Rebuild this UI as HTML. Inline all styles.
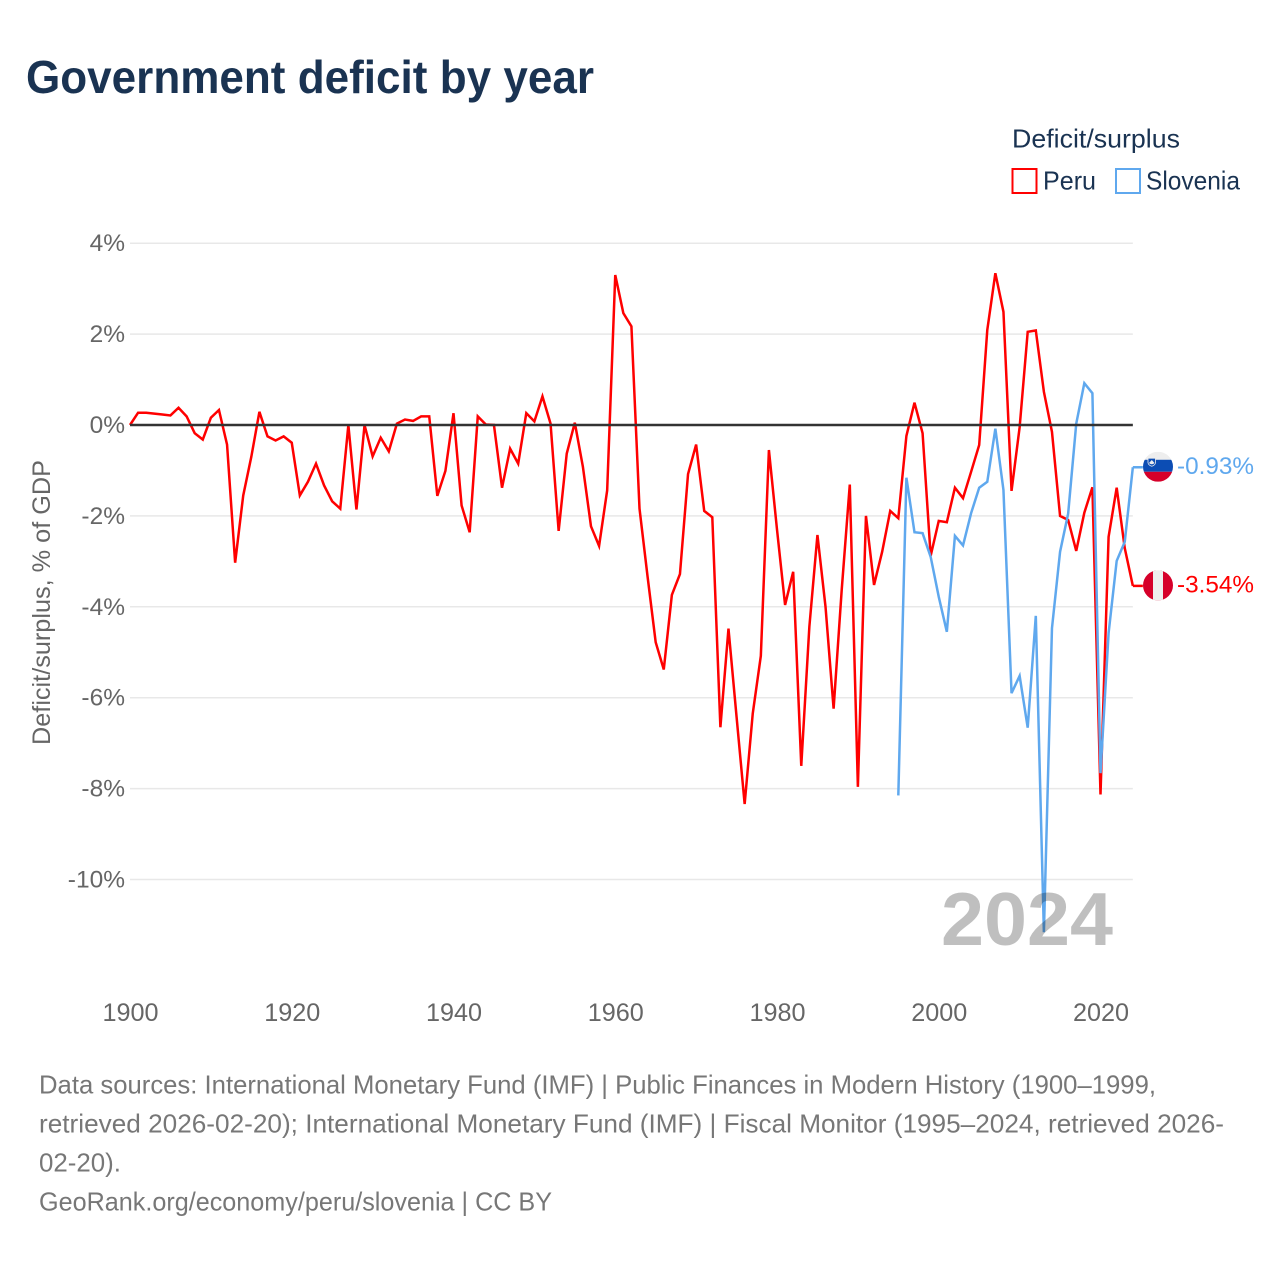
<!DOCTYPE html>
<html lang="en">
<head>
<meta charset="utf-8">
<title>Government deficit by year</title>
<style>
html,body{margin:0;padding:0;background:#fff;width:1280px;height:1280px;overflow:hidden}
svg{display:block}
text{font-family:"Liberation Sans",sans-serif}
</style>
</head>
<body>
<svg id="chart" xmlns="http://www.w3.org/2000/svg" width="1280" height="1280" viewBox="0 0 1280 1280">
  <defs>
    <clipPath id="flag-clip"><circle cx="0" cy="0" r="15"/></clipPath>
  </defs>
  <rect x="0" y="0" width="1280" height="1280" fill="#fff"/>
  <text x="26" y="93" font-size="46" font-weight="700" fill="#1a3352" textLength="568" lengthAdjust="spacingAndGlyphs">Government deficit by year</text>

  <g>
    <text x="1012" y="147.5" font-size="26" fill="#1a3352" textLength="168" lengthAdjust="spacingAndGlyphs">Deficit/surplus</text>
    <g>
      <rect x="1012.5" y="169" width="24" height="24" fill="none" stroke="#ff0000" stroke-width="2"/>
      <text x="1043" y="189.5" font-size="26" fill="#1a3352" textLength="53" lengthAdjust="spacingAndGlyphs">Peru</text>
    </g>
    <g>
      <rect x="1116" y="169" width="24" height="24" fill="none" stroke="#5fa8ee" stroke-width="2"/>
      <text x="1146" y="189.5" font-size="26" fill="#1a3352" textLength="94" lengthAdjust="spacingAndGlyphs">Slovenia</text>
    </g>
  </g>

  <g id="grid"></g>
  <g id="yticks"></g>
  <g id="xticks"></g>
  <text transform="translate(50,602.5) rotate(-90)" text-anchor="middle" font-size="25" fill="#666" textLength="285" lengthAdjust="spacingAndGlyphs">Deficit/surplus, % of GDP</text>

  <g id="series"></g>
  <line id="zero" stroke="#333" stroke-width="2.6"/>
  <g id="ends"></g>

  <text x="941" y="945" font-size="75" font-weight="700" fill="#000" fill-opacity="0.25" textLength="172" lengthAdjust="spacingAndGlyphs">2024</text>

  <g font-size="26" fill="#777">
    <text x="39" y="1093.5" textLength="1117" lengthAdjust="spacingAndGlyphs">Data sources: International Monetary Fund (IMF) | Public Finances in Modern History (1900–1999,</text>
    <text x="39" y="1132.5" textLength="1185" lengthAdjust="spacingAndGlyphs">retrieved 2026-02-20); International Monetary Fund (IMF) | Fiscal Monitor (1995–2024, retrieved 2026-</text>
    <text x="39" y="1171.5" textLength="82" lengthAdjust="spacingAndGlyphs">02-20).</text>
    <text x="39" y="1210.5" textLength="513" lengthAdjust="spacingAndGlyphs">GeoRank.org/economy/peru/slovenia | CC BY</text>
  </g>
</svg>
<script>
const peruStartYear = 1900;
const sloveniaStartYear = 1995;
const peruValues = [
  0,0.27,0.27,0.25,0.23,0.21,0.38,0.19,-0.18,-0.32,
  0.16,0.33,-0.43,-3.03,-1.55,-0.7,0.29,-0.25,-0.34,-0.25,
  -0.39,-1.55,-1.25,-0.85,-1.33,-1.68,-1.84,0,-1.86,0,
  -0.69,-0.28,-0.58,0.03,0.12,0.09,0.19,0.19,-1.56,-1.01,
  0.26,-1.77,-2.36,0.19,0.01,0,-1.38,-0.52,-0.85,0.26,
  0.08,0.63,0.03,-2.33,-0.63,0.05,-0.92,-2.23,-2.66,-1.44,
  3.3,2.46,2.17,-1.84,-3.34,-4.78,-5.38,-3.74,-3.28,-1.08,
  -0.43,-1.89,-2.03,-6.65,-4.48,-6.42,-8.34,-6.35,-5.08,-0.55,
  -2.3,-3.96,-3.23,-7.5,-4.44,-2.42,-4.0,-6.24,-3.63,-1.31,
  -7.96,-2.0,-3.52,-2.79,-1.89,-2.05,-0.24,0.49,-0.18,-2.88,
  -2.11,-2.14,-1.38,-1.61,-1.03,-0.44,2.09,3.34,2.49,-1.45,
  -0.05,2.05,2.08,0.73,-0.15,-2.0,-2.09,-2.77,-1.93,-1.37,
  -8.13,-2.46,-1.38,-2.71,-3.54
];
const sloveniaValues = [
  -8.15,-1.16,-2.36,-2.38,-2.9,-3.78,-4.55,-2.44,-2.65,-1.94,
  -1.38,-1.25,-0.08,-1.43,-5.9,-5.52,-6.66,-4.2,-11.16,-4.47,
  -2.79,-1.95,0.03,0.92,0.7,-7.66,-4.58,-2.99,-2.57,-0.93
];
const yTickValues = [4,2,0,-2,-4,-6,-8,-10];
const xTickYears = [1900,1920,1940,1960,1980,2000,2020];
const endLabels = ["-3.54%","-0.93%"];

const NS = "http://www.w3.org/2000/svg";
function xScale(year){ return 130 + (year - 1900) * 8.0875; }
function yScale(v){ return 425 - v * 45.45; }
function make(tag, attrs, parent){
  const el = document.createElementNS(NS, tag);
  for (const k in attrs) el.setAttribute(k, attrs[k]);
  parent.appendChild(el);
  return el;
}
const X0 = xScale(1900), X1 = xScale(2024);

const gridG = document.getElementById("grid");
const yG = document.getElementById("yticks");
yTickValues.forEach(function(v){
  if (v !== 0) {
    const ln = make("line", {x1:X0, x2:X1, y1:yScale(v), y2:yScale(v), stroke:"#e8e8e8", "stroke-width":1.5}, gridG);
    
    
  }
  const t = make("text", {x:125, y:yScale(v)+8, "text-anchor":"end", "font-size":24.5, fill:"#666"}, yG);
  t.textContent = v + "%";
  
  
});

const xG = document.getElementById("xticks");
xTickYears.forEach(function(y){
  const t = make("text", {x:xScale(y)+0.5, y:1021, "text-anchor":"middle", "font-size":25.2, fill:"#666"}, xG);
  t.textContent = y;
  
  
});

const zero = document.getElementById("zero");
zero.setAttribute("x1", X0);
zero.setAttribute("x2", X1);
zero.setAttribute("y1", yScale(0));
zero.setAttribute("y2", yScale(0));

function linePoints(values, start){
  return values.map(function(v,i){ return xScale(start+i).toFixed(2)+","+yScale(v).toFixed(2); }).join(" ");
}
const seriesG = document.getElementById("series");
const peruLine = make("polyline", {points:linePoints(peruValues, peruStartYear), fill:"none", stroke:"#ff0000", "stroke-width":2.5}, seriesG);


const sloLine = make("polyline", {points:linePoints(sloveniaValues, sloveniaStartYear), fill:"none", stroke:"#5fa8ee", "stroke-width":2.5}, seriesG);



const endsG = document.getElementById("ends");
function endLeader(v, color){
  const y = yScale(v);
  const l = make("line", {x1:X1, x2:X1+10, y1:y, y2:y, stroke:color, "stroke-width":2.5}, endsG);
  
  
  return y;
}
function endText(label, y, color){
  const t = make("text", {x:1177, y:y+6.5, "font-size":24.5, fill:color, textLength:77, lengthAdjust:"spacingAndGlyphs"}, endsG);
  t.textContent = label;
  
  
}
// Peru
const py = endLeader(peruValues[peruValues.length-1], "#ff0000");
const peruFlag = make("g", {transform:"translate(1158,"+(py-0.5)+")", "clip-path":"url(#flag-clip)"}, endsG);


make("rect", {x:-15, y:-15, width:30, height:30, fill:"#d6002a"}, peruFlag);
make("rect", {x:-5, y:-15, width:10, height:30, fill:"#eeeeee"}, peruFlag);
endText(endLabels[0], py, "#ff0000");
// Slovenia
const sy = endLeader(sloveniaValues[sloveniaValues.length-1], "#5fa8ee");
const sloFlag = make("g", {transform:"translate(1158,"+(sy-0.5)+")", "clip-path":"url(#flag-clip)"}, endsG);


make("rect", {x:-15, y:-15, width:30, height:8, fill:"#eeeeee"}, sloFlag);
make("rect", {x:-15, y:-7, width:30, height:12, fill:"#0c4db4"}, sloFlag);
make("rect", {x:-15, y:5, width:30, height:10, fill:"#d6002a"}, sloFlag);
make("path", {d:"M-10,-8.5 L-2.5,-8.5 L-2.5,-4 Q-3,-1.5 -6.2,-0.5 Q-9.5,-1.5 -10,-4 Z", fill:"#0c4db4", stroke:"#eee", "stroke-width":0.8}, sloFlag);
make("path", {d:"M-9,-3.8 L-6.2,-6.8 L-3.5,-3.8 Q-6.2,-1.2 -9,-3.8 Z", fill:"#eee"}, sloFlag);
endText(endLabels[1], sy, "#5fa8ee");
</script>
</body>
</html>
